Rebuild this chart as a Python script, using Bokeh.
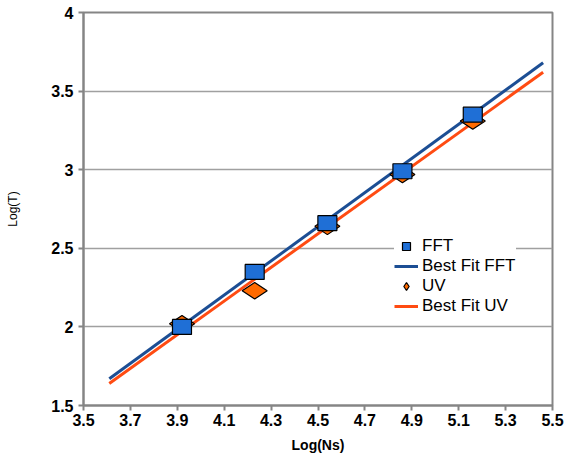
import numpy as np
from bokeh.plotting import figure
from bokeh.models import (Range1d, FixedTicker, CustomJSTickFormatter, Legend, LegendItem)
from bokeh.embed import file_html
from bokeh.resources import INLINE

# ---- data ----
log_ns = [3.92, 4.23, 4.54, 4.86, 5.16]
fft_logt = [2.00, 2.35, 2.66, 2.99, 3.35]
uv_logt = [2.02, 2.23, 2.64, 2.97, 3.31]
fit_x = [3.61, 5.46]
fit_fft = [1.67, 3.68]
fit_uv = [1.64, 3.62]
x_ticks = [3.5, 3.7, 3.9, 4.1, 4.3, 4.5, 4.7, 4.9, 5.1, 5.3, 5.5]
y_ticks = [1.5, 2.0, 2.5, 3.0, 3.5, 4.0]

FONT = "Liberation Sans"
GRAY = "#858585"
BLUE_FILL = "#1f6fd6"
BLUE_LINE = "#1c4e94"
ORANGE_FILL = "#ff6a00"
ORANGE_LINE = "#ff4b12"

p = figure(width=578, height=466, x_range=Range1d(3.5, 5.5), y_range=Range1d(1.5, 4.0),
           output_backend="svg", toolbar_location=None,
           min_border_left=83, min_border_right=26, min_border_top=12, min_border_bottom=61,
           background_fill_color="white", border_fill_color="white")

p.outline_line_color = GRAY
p.outline_line_width = 2
p.xgrid.visible = False
p.ygrid.grid_line_color = "#a0a0a0"
p.ygrid.grid_line_width = 1.5

fmt = CustomJSTickFormatter(code="return String(+tick.toFixed(2));")
for ax in (p.xaxis[0], p.yaxis[0]):
    ax.axis_line_color = GRAY
    ax.axis_line_width = 2
    ax.major_tick_line_color = GRAY
    ax.major_tick_line_width = 2
    ax.major_tick_out = 5
    ax.major_tick_in = 0
    ax.minor_tick_line_color = None
    ax.major_label_text_font = FONT
    ax.major_label_text_font_style = "bold"
    ax.major_label_text_font_size = "16px"
    ax.major_label_text_color = "black"
    ax.axis_label_text_font = FONT
    ax.axis_label_text_color = "black"
    ax.formatter = fmt

p.xaxis.ticker = FixedTicker(ticks=x_ticks)
p.yaxis.ticker = FixedTicker(ticks=y_ticks)
p.xaxis.major_label_standoff = 3
p.xaxis.axis_label = "Log(Ns)"
p.xaxis.axis_label_text_font_size = "14px"
p.xaxis.axis_label_text_font_style = "bold"
p.xaxis.axis_label_standoff = 8
p.yaxis.axis_label = "Log(T)"
p.yaxis.axis_label_text_font_size = "12px"
p.yaxis.axis_label_text_font_style = "normal"
p.yaxis.axis_label_standoff = 28

# best-fit lines
r_fit_fft = p.line(fit_x, fit_fft, line_color=BLUE_LINE, line_width=3)
r_fit_uv = p.line(fit_x, fit_uv, line_color=ORANGE_LINE, line_width=3)

# data markers
p.scatter(log_ns, uv_logt, marker="diamond", size=25, angle=np.pi / 2,
          fill_color=ORANGE_FILL, line_color="black", line_width=1.2)
p.rect(log_ns, fft_logt, width=19, height=15, width_units="screen", height_units="screen",
       fill_color=BLUE_FILL, line_color="black", line_width=1.2)

# legend-only glyphs (placed outside the visible ranges)
leg_sq = p.scatter([0], [0], marker="square", size=11,
                   fill_color=BLUE_FILL, line_color="black", line_width=1.2)
leg_dm = p.scatter([0], [0], marker="diamond", size=14,
                   fill_color=ORANGE_FILL, line_color="black", line_width=1.2)

legend = Legend(items=[
    LegendItem(label="FFT", renderers=[leg_sq]),
    LegendItem(label="Best Fit FFT", renderers=[r_fit_fft]),
    LegendItem(label="UV", renderers=[leg_dm]),
    LegendItem(label="Best Fit UV", renderers=[r_fit_uv]),
], location=(311, 89))
legend.label_text_font = FONT
legend.label_text_font_size = "17px"
legend.label_text_color = "black"
legend.background_fill_color = "white"
legend.background_fill_alpha = 1.0
legend.border_line_color = None
legend.glyph_width = 24
legend.glyph_height = 20
legend.label_height = 20
legend.spacing = 0
legend.padding = 4
legend.margin = 0
legend.label_standoff = 4
p.add_layout(legend)

open("out.html", "w").write(file_html(p, INLINE))
